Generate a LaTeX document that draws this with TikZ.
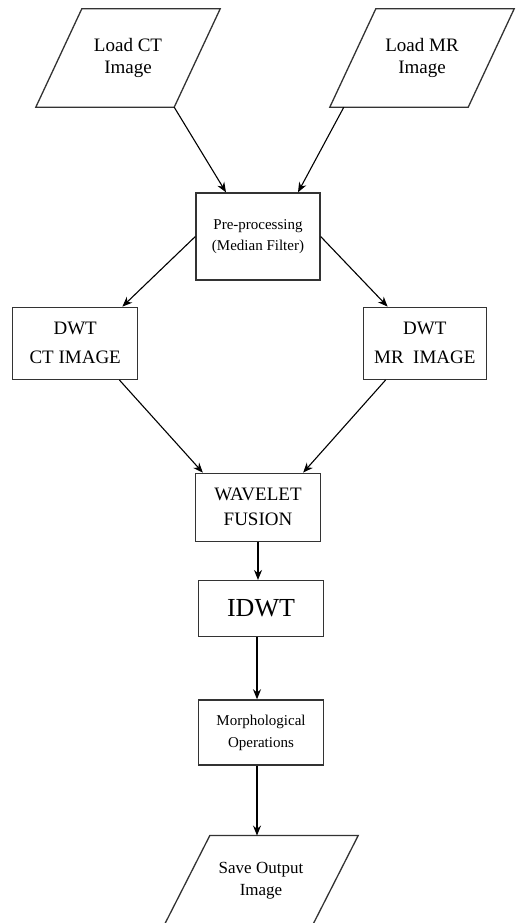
\documentclass[tikz,border=0pt]{standalone}
\usepackage{fontspec}
\setmainfont{Liberation Serif}
\usetikzlibrary{shapes.geometric,arrows.meta,positioning,calc}
\tikzstyle{process} = [rectangle, draw=black!80, line width=1.3pt, fill=white, minimum width=125pt, align=center, inner sep=2pt]
\tikzstyle{io} = [rectangle, minimum width=138pt, minimum height=98pt, align=center, inner sep=2pt, font=\fontsize{19}{22}\selectfont,
    append after command={\pgfextra{\draw[draw=black!80, line width=1.3pt]
        ([xshift=23pt]\tikzlastnode.north west) -- ([xshift=23pt]\tikzlastnode.north east)
        -- ([xshift=-23pt]\tikzlastnode.south east) -- ([xshift=-23pt]\tikzlastnode.south west) -- cycle;}}]
\tikzstyle{arrow} = [line width=1.1pt,->,>={Stealth[length=10pt,width=8pt]}]

\begin{document}
\begin{tikzpicture}[x=1pt, y=-1pt]
    \useasboundingbox (0,0) rectangle (524,923);
    \node[io] (loadct) at (128,58) {Load CT\\Image};
    \node[io] (loadmr) at (422,58) {Load MR\\Image};
    \node[process, minimum width=124pt, minimum height=87pt, font=\fontsize{15}{21}\selectfont] (pre) at (258,236.5) {Pre-processing\\(Median Filter)};
    \node[process, minimum height=72pt, font=\fontsize{19}{29}\selectfont, below left=26pt and 57pt of pre] (dwtct) {DWT\\CT IMAGE};
    \node[process, minimum width=123pt, minimum height=72pt, font=\fontsize{19}{29}\selectfont, below right=26pt and 42pt of pre] (dwtmr) {DWT\\MR\ \ IMAGE};
    \node[process, minimum height=68pt, font=\fontsize{19}{25}\selectfont, below=192pt of pre] (wf) {WAVELET\\FUSION};
    \node[process, minimum height=56pt, font=\fontsize{26}{30}\selectfont, below=38pt of wf, xshift=3pt] (idwt) {IDWT};
    \node[process, minimum height=65pt, font=\fontsize{15}{22}\selectfont, below=62pt of idwt] (morph) {Morphological\\Operations};
    \node[io, minimum width=148pt, minimum height=90pt, font=\fontsize{17}{22}\selectfont, below=70pt of morph] (save) {Save Output\\Image};
    % inputs into pre-processing
    \draw[arrow] ([xshift=-23pt]loadct.south east) -- ([xshift=-32pt]pre.north);
    \draw[arrow] ([xshift=-9pt]loadmr.south west) -- ([xshift=40pt]pre.north);
    % split into the two transforms
    \draw[arrow] (pre.west) -- ([xshift=-16pt]dwtct.north east);
    \draw[arrow] (pre.east) -- ([xshift=25pt]dwtmr.north west);
    \draw[arrow] ([xshift=-19pt]dwtct.south east) -- ([xshift=8pt]wf.north west);
    \draw[arrow] ([xshift=23pt]dwtmr.south west) -- ([xshift=-18pt]wf.north east);
    % main column
    \draw[arrow] (wf.south) -- (wf.south |- idwt.north);
    \draw[arrow] ([xshift=-4pt]idwt.south) -- ([xshift=-4pt]idwt.south |- morph.north);
    \draw[arrow] ([xshift=-4pt]morph.south) -- ([xshift=-4pt]morph.south |- save.north);
\end{tikzpicture}
\end{document}
